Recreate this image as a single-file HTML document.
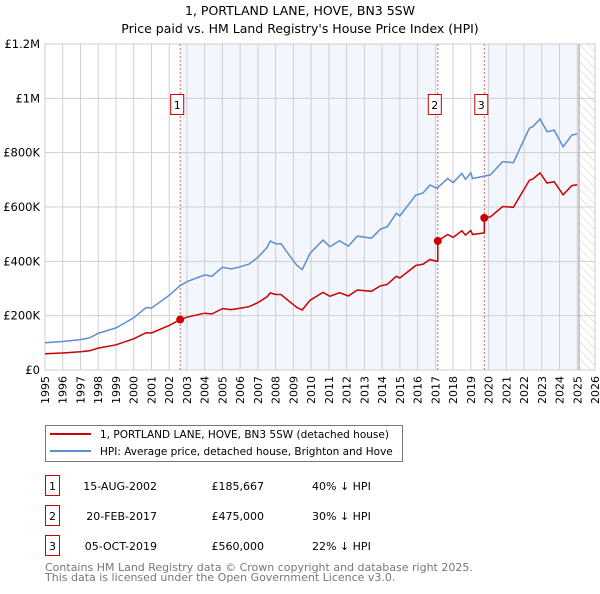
<!DOCTYPE html>
<html><head><meta charset="utf-8"><style>
body{margin:0;background:#fff;width:600px;height:590px;overflow:hidden;font-family:"DejaVu Sans","Liberation Sans",sans-serif}
svg text{font-family:"DejaVu Sans","Liberation Sans",sans-serif}
</style></head><body>
<svg id="chart" width="600" height="590" viewBox="0 0 600 590" xmlns="http://www.w3.org/2000/svg">
<defs><pattern id="hatch" width="6" height="6" patternUnits="userSpaceOnUse" patternTransform="rotate(-45)"><line x1="0" y1="0" x2="0" y2="6" stroke="#ccc" stroke-width="1"/></pattern></defs>
<text x="300" y="15" text-anchor="middle" font-size="12.5">1, PORTLAND LANE, HOVE, BN3 5SW</text>
<text x="300" y="33" text-anchor="middle" font-size="12.5">Price paid vs. HM Land Registry's House Price Index (HPI)</text>
<g id="plot"></g>
<rect x="45.5" y="425.5" width="357" height="36" fill="#fff" stroke="#777"/>
<line x1="50" y1="434" x2="91" y2="434" stroke="#cc0000" stroke-width="2"/>
<text x="100" y="438" font-size="10.5">1, PORTLAND LANE, HOVE, BN3 5SW (detached house)</text>
<line x1="50" y1="451" x2="91" y2="451" stroke="#5b8fd1" stroke-width="2"/>
<text x="100" y="455" font-size="10.5">HPI: Average price, detached house, Brighton and Hove</text>
<g id="table" font-size="11"></g>
<text x="45" y="571" font-size="11" fill="#777">Contains HM Land Registry data © Crown copyright and database right 2025.</text>
<text x="45" y="581" font-size="11" fill="#777">This data is licensed under the Open Government Licence v3.0.</text>
</svg>
<script>
const hpiYears=[1995,1996,1997,1997.5,1998,1999,2000,2000.7,2001,2002,2002.6,2003,2004,2004.4,2005,2005.5,2006,2006.5,2007,2007.5,2007.7,2008,2008.3,2008.8,2009.2,2009.5,2009.94,2010.67,2011.06,2011.6,2012.1,2012.6,2013.4,2013.9,2014.3,2014.8,2015,2015.9,2016.3,2016.7,2017.1,2017.7,2018,2018.5,2018.7,2019,2019.1,2020.1,2020.8,2021.4,2021.8,2022.3,2022.5,2022.9,2023.3,2023.7,2024.2,2024.7,2025];
const hpiValues=[100000,105000,112000,118000,135000,155000,192000,230000,228000,275000,310000,325000,350000,345000,378000,372000,380000,390000,415000,450000,475000,465000,465000,420000,385000,370000,430000,478000,454000,476000,456000,493000,485000,518000,528000,577000,567000,644000,651000,681000,669000,705000,690000,724000,702000,726000,705000,718000,767000,763000,820000,890000,896000,924000,877000,883000,822000,865000,869000];
const saleDates=[2002.62,2017.14,2019.76];
const salePrices=[185667,475000,560000];
const saleLabels=["1","2","3"];
const saleDateText=["15-AUG-2002","20-FEB-2017","05-OCT-2019"];
const salePriceText=["£185,667","£475,000","£560,000"];
const saleHpiText=["40% ↓ HPI","30% ↓ HPI","22% ↓ HPI"];
const yTicks=[0,200000,400000,600000,800000,1000000,1200000];
const yTickLabels=["£0","£200K","£400K","£600K","£800K","£1M","£1.2M"];
const xMin=1995,xMax=2026,yMax=1200000,endData=2025.1;
const L=45,R=595,T=44,B=370;
const X=v=>L+(v-xMin)/(xMax-xMin)*(R-L);
const Y=v=>B-v/yMax*(B-T);
const NS="http://www.w3.org/2000/svg";
const plot=document.getElementById('plot');
function mk(tag,attrs,parent){const e=document.createElementNS(NS,tag);for(const k in attrs)e.setAttribute(k,attrs[k]);(parent||plot).appendChild(e);return e;}
function hpiAt(t){for(let i=1;i<hpiYears.length;i++){if(t<=hpiYears[i]){const f=(t-hpiYears[i-1])/(hpiYears[i]-hpiYears[i-1]);return hpiValues[i-1]+f*(hpiValues[i]-hpiValues[i-1]);}}return hpiValues[hpiValues.length-1];}
let s1=mk('rect',{x:X(saleDates[0]),y:T,width:X(saleDates[1])-X(saleDates[0]),height:B-T,fill:'#f3f6fd'});


let s2=mk('rect',{x:X(saleDates[2]),y:T,width:X(endData)-X(saleDates[2]),height:B-T,fill:'#f3f6fd'});


let h=mk('rect',{x:X(endData),y:T,width:R-X(endData),height:B-T,fill:'url(#hatch)'});


for(let yr=xMin;yr<=xMax;yr++){
 let g=mk('line',{x1:X(yr),x2:X(yr),y1:T,y2:B,stroke:'#d0d0d0','stroke-width':1});
 
 
 let t=mk('text',{x:0,y:0,'font-size':11,'text-anchor':'end',transform:`translate(${X(yr)+4},${B+6}) rotate(-90)`});
 
 
 t.textContent=yr;
}
yTicks.forEach((v,i)=>{
 let g=mk('line',{x1:L,x2:R,y1:Y(v),y2:Y(v),stroke:'#d0d0d0','stroke-width':1});
 
 
 let t=mk('text',{x:40,y:Y(v)+4,'font-size':11.5,'text-anchor':'end'});
 
 
 t.textContent=yTickLabels[i];
});
let ed=mk('line',{x1:X(endData),x2:X(endData),y1:T,y2:B,stroke:'#999','stroke-width':1});


let br=mk('rect',{x:L,y:T,width:R-L,height:B-T,fill:'none',stroke:'#ccc'});


saleDates.forEach((d,i)=>{
 let l=mk('line',{x1:X(d),x2:X(d),y1:T,y2:B,stroke:'#e06666','stroke-width':1,'stroke-dasharray':'2,2'});
 
 
 let r=mk('rect',{x:X(d)-9.5,y:94.5,width:13,height:20,fill:'#fff',stroke:'#cc0000'});
 
 
 let t=mk('text',{x:X(d)-3,y:109,'font-size':11,'text-anchor':'middle'});
 
 
 t.textContent=saleLabels[i];
});
let hp=hpiYears.map((yv,i)=>`${X(yv).toFixed(1)},${Y(hpiValues[i]).toFixed(1)}`).join(' ');
let hl=mk('polyline',{points:hp,fill:'none',stroke:'#5b8fd1','stroke-width':1.5});


const ratios=saleDates.map((d,i)=>salePrices[i]/hpiAt(d));
let pts=[];
const allT=hpiYears.concat(saleDates).sort((a,b)=>a-b);
allT.forEach(t=>{
 let k=0;for(let i=0;i<saleDates.length;i++)if(t>=saleDates[i])k=i;
 if(saleDates.includes(t)&&k>0){pts.push([t,hpiAt(t)*ratios[k-1]]);}
 pts.push([t,hpiAt(t)*ratios[k]]);
});
let pl=mk('polyline',{points:pts.map(p=>`${X(p[0]).toFixed(1)},${Y(p[1]).toFixed(1)}`).join(' '),fill:'none',stroke:'#cc0000','stroke-width':1.5});


saleDates.forEach((d,i)=>{
 let c=mk('circle',{cx:X(d),cy:Y(salePrices[i]),r:4,fill:'#cc0000'});
 
 
});
const tb=document.getElementById('table');
saleDates.forEach((d,i)=>{
 const y0=476+i*30;
 let r=mk('rect',{x:45.5,y:y0-0.5,width:14,height:20,fill:'#fff',stroke:'#cc0000'},tb);
 
 
 let a=mk('text',{x:52.5,y:y0+14,'text-anchor':'middle'},tb);
 
 
 a.textContent=saleLabels[i];
 let b=mk('text',{x:157,y:y0+14,'text-anchor':'end'},tb);
 
 
 b.textContent=saleDateText[i];
 let c=mk('text',{x:264,y:y0+14,'text-anchor':'end'},tb);
 
 
 c.textContent=salePriceText[i];
 let e=mk('text',{x:312,y:y0+14},tb);
 
 
 e.textContent=saleHpiText[i];
});
</script>
</body></html>
